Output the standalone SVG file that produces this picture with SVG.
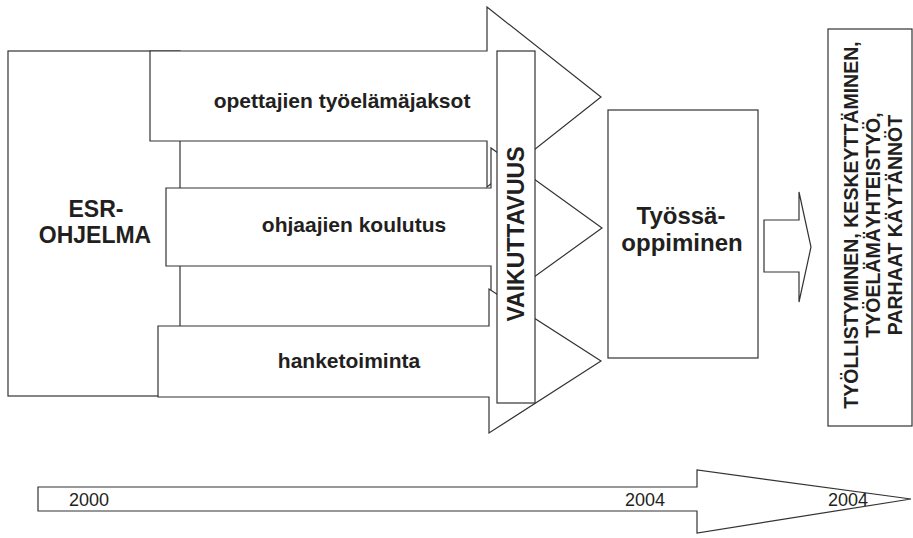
<svg xmlns="http://www.w3.org/2000/svg" width="913" height="538" viewBox="0 0 913 538">
<style>
.s{fill:#fff;stroke:#333;stroke-width:1.2;stroke-linejoin:miter}
.b{font-family:"Liberation Sans",Arial,sans-serif;font-weight:bold;fill:#231f20}
.r{font-family:"Liberation Sans",Arial,sans-serif;font-size:18px;fill:#231f20}
</style>
<rect width="913" height="538" fill="#fff"/>
<g id="esr">
<rect class="s" x="8" y="51" width="172" height="345"/>
<text class="b" font-size="23" text-anchor="middle"><tspan x="96" y="217">ESR-</tspan><tspan x="95" y="243">OHJELMA</tspan></text>
</g>
<g id="connectors">
<g id="arrow-opettajien">
<polygon class="s" points="150,51 487,51 487,7 601,97 487,187 487,141 150,141"/>
<text class="b" font-size="21" x="342" y="108" text-anchor="middle">opettajien työelämäjaksot</text>
</g>
<g id="arrow-ohjaajien">
<polygon class="s" points="166,188 491,188 491,148 602,228 491,308 491,266 166,266"/>
<text class="b" font-size="21" x="354" y="232" text-anchor="middle">ohjaajien koulutus</text>
</g>
<g id="arrow-hanke">
<polygon class="s" points="158,326 489,326 489,289 601,361 489,433 489,397 158,397"/>
<text class="b" font-size="21" x="349" y="368" text-anchor="middle">hanketoiminta</text>
</g>
<polygon id="arrow-small" class="s" points="764,220 799,220 799,192 811,247 799,302 799,272 764,272"/>
<g id="timeline">
<polygon class="s" points="38,487 697,487 697,470 911,499 697,533 697,511 38,511"/>
<text class="r" x="69" y="506">2000</text>
<text class="r" x="625" y="506">2004</text>
<text class="r" x="828" y="506">2004</text>
</g>
</g>
<g id="vaikuttavuus">
<rect class="s" x="497" y="51" width="38" height="352"/>
<text class="b" font-size="23" text-anchor="middle" transform="translate(524,234) rotate(-90)">VAIKUTTAVUUS</text>
</g>
<g id="tyossaoppiminen">
<rect class="s" x="608" y="110" width="150" height="248"/>
<text class="b" font-size="24" text-anchor="middle"><tspan x="681" y="224">Työssä-</tspan><tspan x="682" y="251">oppiminen</tspan></text>
</g>
<g id="tulokset">
<rect class="s" x="828" y="29" width="84" height="397"/>
<text class="b" font-size="19.5" text-anchor="middle" transform="translate(0,225) rotate(-90)"><tspan x="0" y="858">TYÖLLISTYMINEN, KESKEYTTÄMINEN,</tspan><tspan x="0" y="880">TYÖELÄMÄYHTEISTYÖ,</tspan><tspan x="0" y="902">PARHAAT KÄYTÄNNÖT</tspan></text>
</g>
</svg>
